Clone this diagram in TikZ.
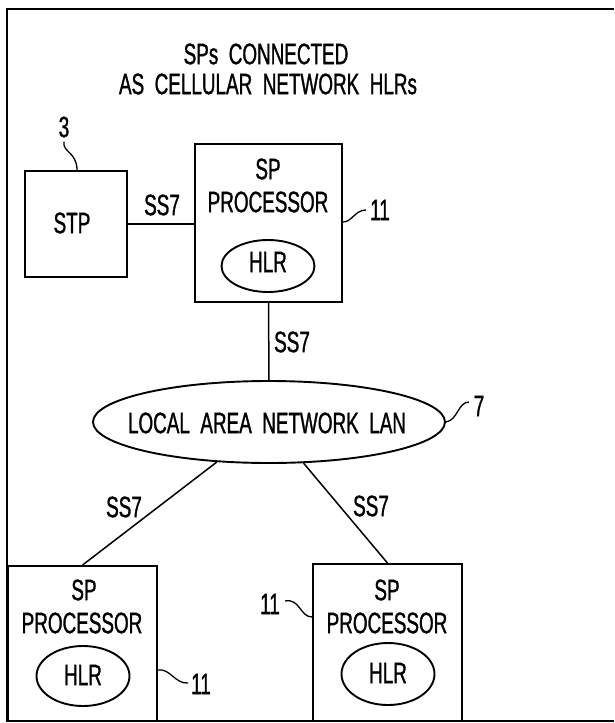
\documentclass[tikz,border=0pt]{standalone}
\usepackage{fontspec}
\setmainfont{Liberation Sans}[FakeStretch=0.64,FakeBold=1]
\usetikzlibrary{shapes.geometric}
\begin{document}
\begin{tikzpicture}[x=1pt,y=-1pt,
  box/.style={draw, line width=1.9pt, rectangle, inner sep=0},
  oval/.style={draw, line width=1.9pt, ellipse, inner sep=0},
  lbl/.style={font=\fontsize{29.5}{31}\selectfont, inner sep=0},
  conn/.style={line width=1.5pt},
  lead/.style={line width=1.3pt},
  frame/.style={line width=2.4pt}]
\useasboundingbox (0,0) rectangle (614,723);
% frame
\coordinate (fr1) at (614,9);
\coordinate (fr2) at (7,9);
\coordinate (fr3) at (7,721);
\coordinate (fr4) at (614,721);
\draw[frame] (fr1) -- (fr2) -- (fr3) -- (fr4);
% title
\node[lbl] (t1) at (266,54) {SPs\ \ CONNECTED};
\node[lbl] (t2) at (268,84) {AS\ \ CELLULAR\ \ NETWORK\ \ HLRs};
% STP
\node[box, minimum width=102pt, minimum height=106pt] (stp) at (76,224) {};
\node[lbl] (stptxt) at (72,223) {STP};
\node[lbl] (n3) at (64,127) {3};
\draw[lead] (n3.south) ++(0,4) coordinate (l3a) .. controls (62,152) and (77,152) .. (stp.north -| 77,0);
% top SP
\node[box, minimum width=147pt, minimum height=158pt] (sp0) at (268.5,223) {};
\node[lbl] (sp0a) at (268,169) {SP};
\node[lbl] (sp0b) at (268,202) {PROCESSOR};
\node[oval, minimum width=93pt, minimum height=52pt] (hlr0) at (268,266) {};
\node[lbl] (hlr0t) at (268,262) {HLR};
\node[lbl] (n11a) at (380,210) {11};
\coordinate (l11a) at (366,210);
\draw[lead] (sp0.east |- 0,222) .. controls (352,222) and (355,210) .. (l11a);
% STP-SP link
\draw[conn] (stp.east |- 0,224) -- (sp0.west |- 0,224);
\node[lbl] (ss7a) at (162,205) {SS7};
% LAN
\node[oval, minimum width=352pt, minimum height=82pt] (lan) at (269,422) {};
\node[lbl] (lantxt) at (267,423) {LOCAL\ \ AREA\ \ NETWORK\ \ LAN};
\draw[conn] (sp0.south) -- (lan.north);
\node[lbl] (ss7b) at (292,342) {SS7};
\node[lbl] (n7) at (479,406) {7};
\coordinate (l7) at (469,402);
\draw[lead] (lan.east) .. controls (458,420) and (458,402) .. (l7);
% bottom left SP
\node[box, minimum width=149pt, minimum height=155pt] (sp1) at (82.5,643.5) {};
\node[lbl] (sp1a) at (84,590) {SP};
\node[lbl] (sp1b) at (82,623) {PROCESSOR};
\node[oval, minimum width=93pt, minimum height=60pt] (hlr1) at (83,676) {};
\node[lbl] (hlr1t) at (83,675) {HLR};
\node[lbl] (n11b) at (201,684) {11};
\coordinate (l11b) at (188,683);
\draw[lead] (sp1.east |- 0,670) .. controls (170,668) and (175,684) .. (l11b);
% bottom right SP
\node[box, minimum width=149pt, minimum height=157pt] (sp2) at (387.5,642.5) {};
\node[lbl] (sp2a) at (387,590) {SP};
\node[lbl] (sp2b) at (387,623) {PROCESSOR};
\node[oval, minimum width=93pt, minimum height=62pt] (hlr2) at (388,674) {};
\node[lbl] (hlr2t) at (388,673) {HLR};
\node[lbl] (n11c) at (270,604) {11};
\coordinate (l11c) at (285,601);
\draw[lead] (l11c) .. controls (300,598) and (300,617) .. (sp2.west |- 0,617);
% LAN links
\draw[conn] (lan) -- (sp1.north);
\draw[conn] (lan) -- (sp2.north);
\node[lbl] (ss7c) at (124,507) {SS7};
\node[lbl] (ss7d) at (371,506) {SS7};
\end{tikzpicture}
\end{document}
